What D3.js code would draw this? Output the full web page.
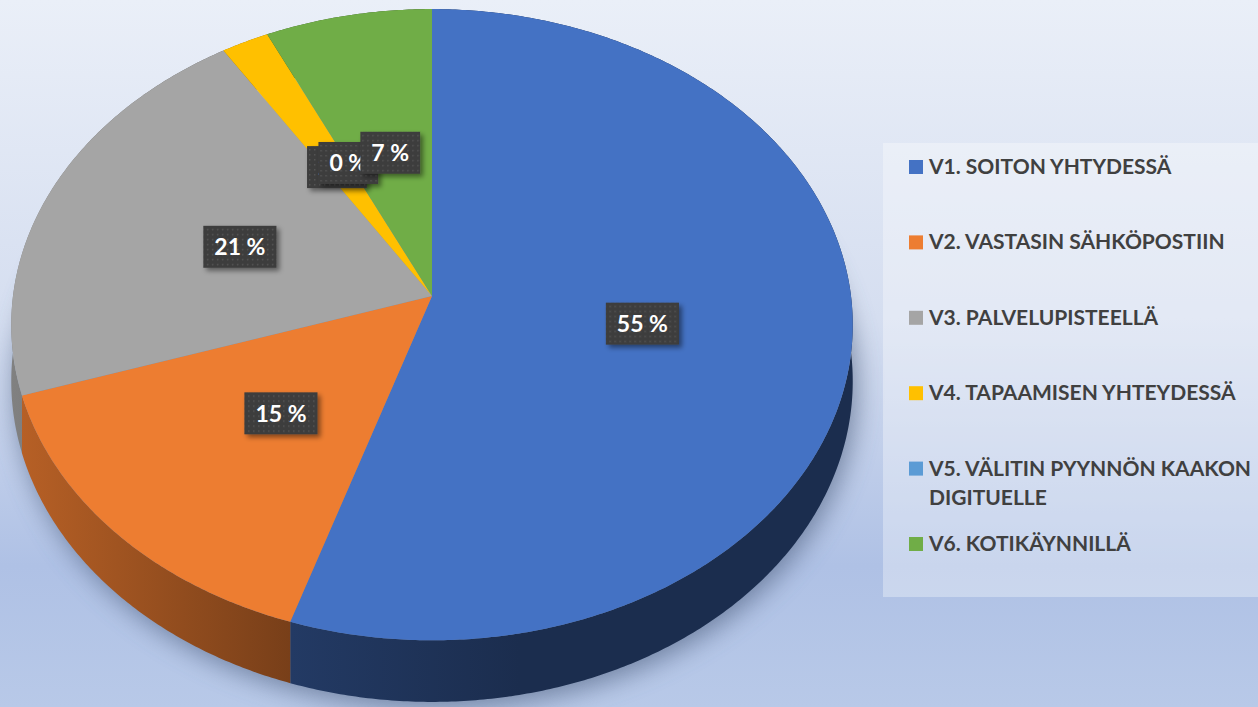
<!DOCTYPE html>
<html>
<head>
<meta charset="utf-8">
<script src="https://cdn.jsdelivr.net/npm/d3@7"></script>
<style>
  html, body { margin: 0; padding: 0; background: #e9eef8; }
  svg { display: block; }
</style>
</head>
<body>
<div id="chart"></div>
<script>
// data
const categories = [
  'V1. SOITON YHTYDESSÄ',
  'V2. VASTASIN SÄHKÖPOSTIIN',
  'V3. PALVELUPISTEELLÄ',
  'V4. TAPAAMISEN YHTEYDESSÄ',
  'V5. VÄLITIN PYYNNÖN KAAKON DIGITUELLE',
  'V6. KOTIKÄYNNILLÄ'
];
const values = [55, 15, 21, 2, 0, 7];
const labels = ['55 %', '15 %', '21 %', '2 %', '0 %', '7 %'];
const colors = ['#4472c4', '#ed7d31', '#a5a5a5', '#ffc000', '#5b9bd5', '#70ad47'];

const width = 1258, height = 707;

// 3d pie geometry
const cx = 432, cy = 296, Rx = 419, Ry = 313, depth = 56, camD = 11;

function proj(theta, r, z) {
  // theta clockwise from top, r relative radius, z pixels downwards
  const u = r * Math.sin(theta), v = -r * Math.cos(theta);
  const s = camD / (camD - v);
  return [cx + Rx * u * s, cy + (Ry * v + z) * s];
}

function arcPts(a0, a1, z) {
  const n = Math.max(2, Math.ceil(Math.abs(a1 - a0) / (Math.PI / 360)));
  return d3.range(n + 1).map(i => proj(a0 + (a1 - a0) * i / n, 1, z));
}

const line = d3.line();

const svg = d3.select('#chart').append('svg')
  .attr('width', width)
  .attr('height', height);

const defs = svg.append('defs');

const bg = defs.append('linearGradient')
  .attr('id', 'bg')
  .attr('x1', 0).attr('y1', 0).attr('x2', 0).attr('y2', 1);
bg.append('stop').attr('offset', 0).attr('stop-color', '#eaeff8');
bg.append('stop').attr('offset', 0.45).attr('stop-color', '#d5def0');
bg.append('stop').attr('offset', 0.8).attr('stop-color', '#afc1e5');
bg.append('stop').attr('offset', 1).attr('stop-color', '#b8c9e8');

defs.append('filter')
  .attr('id', 'blur')
  .attr('x', '-20%').attr('y', '-20%').attr('width', '140%').attr('height', '140%')
  .append('feGaussianBlur')
  .attr('stdDeviation', 13);

const boxShadow = defs.append('filter')
  .attr('id', 'boxshadow')
  .attr('x', '-30%').attr('y', '-30%').attr('width', '160%').attr('height', '160%');
boxShadow.append('feDropShadow')
  .attr('dx', 3).attr('dy', 3)
  .attr('stdDeviation', 2.5)
  .attr('flood-color', '#000')
  .attr('flood-opacity', 0.45);

// dotted pattern for the data label boxes
const pat = defs.append('pattern')
  .attr('id', 'dots')
  .attr('patternUnits', 'userSpaceOnUse')
  .attr('width', 5).attr('height', 5);
pat.append('rect').attr('width', 5).attr('height', 5).attr('fill', '#3d3d3d');
pat.append('rect').attr('x', 2).attr('y', 2).attr('width', 1.5).attr('height', 1.5).attr('fill', '#555');

// wall gradients, darker to the right
colors.forEach((c, i) => {
  const g = defs.append('linearGradient')
    .attr('id', 'wall' + i)
    .attr('gradientUnits', 'userSpaceOnUse')
    .attr('x1', 10).attr('y1', 0).attr('x2', 520).attr('y2', 0);
  g.append('stop').attr('offset', 0).attr('stop-color', d3.color(c).darker(0.7));
  g.append('stop').attr('offset', 0.55).attr('stop-color', d3.color(c).darker(1.9));
  g.append('stop').attr('offset', 1).attr('stop-color', d3.color(c).darker(2.6));
});

svg.append('rect')
  .attr('width', width).attr('height', height)
  .attr('fill', 'url(#bg)');

const pie = d3.pie().sort(null).value(d => d)
  .startAngle(0).endAngle(2 * Math.PI);
const arcs = pie(values);

// soft shadow under the pie
const shadowPts = arcPts(0, 2 * Math.PI, depth + 6).map(p => [p[0] + 4, p[1]]);
svg.append('path')
  .attr('d', line(shadowPts) + 'Z')
  .attr('fill', '#4d5e7e')
  .attr('opacity', 0.65)
  .attr('filter', 'url(#blur)');

const pieG = svg.append('g');

// outer walls
pieG.selectAll('.wall')
  .data(arcs.filter(d => d.endAngle > d.startAngle))
  .join('path')
  .attr('class', 'wall')
  .attr('d', d => {
    const top = arcPts(d.startAngle, d.endAngle, 0);
    const bot = arcPts(d.endAngle, d.startAngle, depth);
    return line(top.concat(bot)) + 'Z';
  })
  .attr('fill', d => 'url(#wall' + d.index + ')');

// top faces
pieG.selectAll('.top')
  .data(arcs.filter(d => d.endAngle > d.startAngle))
  .join('path')
  .attr('class', 'top')
  .attr('d', d => line([[cx, cy]].concat(arcPts(d.startAngle, d.endAngle, 0))) + 'Z')
  .attr('fill', d => colors[d.index]);

// data labels, drawn in slice order so later ones overlap earlier ones
const labelG = svg.append('g');
arcs.forEach(d => {
  const mid = (d.startAngle + d.endAngle) / 2;
  const [x, y] = proj(mid, 0.5, 0);
  const g = labelG.append('g').attr('transform', `translate(${x + 2},${y + 3})`);
  const rect = g.append('rect')
    .attr('fill', 'url(#dots)')
    .attr('filter', 'url(#boxshadow)');
  const t = g.append('text')
    .attr('text-anchor', 'middle')
    .attr('dy', '0.36em')
    .attr('fill', '#fff')
    .attr('font-family', 'Lato, "Open Sans", sans-serif')
    .attr('font-weight', 700)
    .attr('font-size', 23)
    .text(labels[d.index]);
  const w = t.node().getComputedTextLength() + 22;
  rect.attr('x', -w / 2).attr('y', -21).attr('width', w).attr('height', 42);
});

// legend
const legend = svg.append('g');
legend.append('rect')
  .attr('x', 883).attr('y', 143)
  .attr('width', width - 883).attr('height', 454)
  .attr('fill', '#fff')
  .attr('opacity', 0.33);

const legendStep = 75.4;
categories.forEach((c, i) => {
  const base = 174 + i * legendStep;
  legend.append('rect')
    .attr('x', 909).attr('y', base - 14)
    .attr('width', 14).attr('height', 14)
    .attr('fill', colors[i]);
  const t = legend.append('text')
    .attr('x', 929).attr('y', base)
    .attr('fill', '#404040')
    .attr('font-family', 'Lato, "Open Sans", sans-serif')
    .attr('font-weight', 700)
    .attr('font-size', 21);
  // wrap to the legend width
  const words = c.split(' ');
  let lineWords = [], lineNo = 0;
  let tspan = t.append('tspan').attr('x', 929).attr('y', base);
  words.forEach(w => {
    lineWords.push(w);
    tspan.text(lineWords.join(' '));
    if (tspan.node().getComputedTextLength() > 326 && lineWords.length > 1) {
      lineWords.pop();
      tspan.text(lineWords.join(' '));
      lineWords = [w];
      lineNo++;
      tspan = t.append('tspan').attr('x', 929).attr('y', base + lineNo * 29).text(w);
    }
  });
});
</script>
</body>
</html>
